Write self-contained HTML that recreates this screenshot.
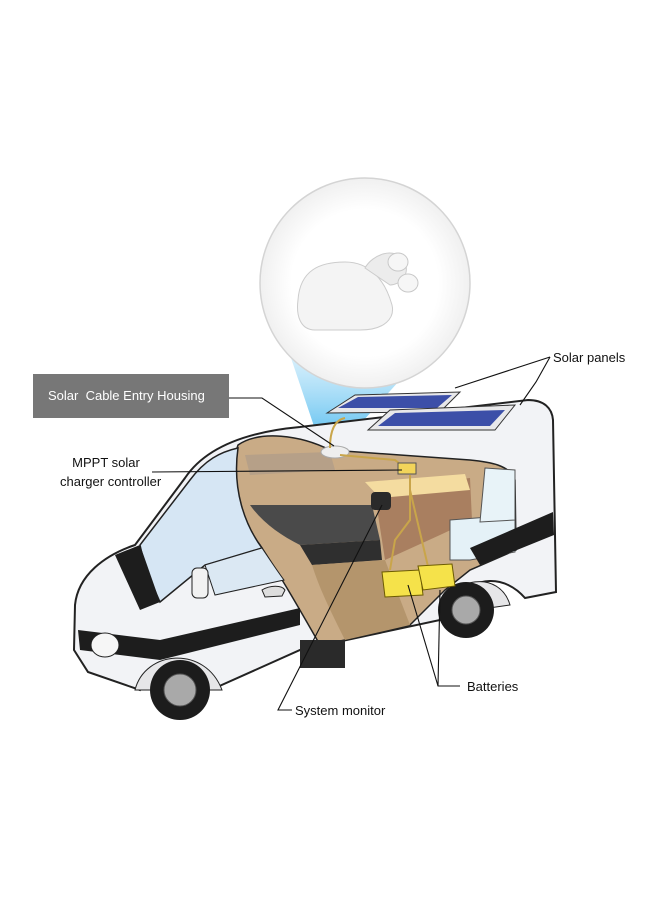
<!DOCTYPE html>
<html><head><meta charset="utf-8"><style>
html,body{margin:0;padding:0;background:#fff;}
body{width:660px;height:900px;position:relative;overflow:hidden;font-family:"Liberation Sans",sans-serif;}
.t{position:absolute;font-size:13px;color:#111;line-height:19px;}
</style></head><body>
<svg width="660" height="900" style="position:absolute;left:0;top:0">
<defs>
<linearGradient id="beam" x1="0" y1="0" x2="0" y2="1">
<stop offset="0" stop-color="#bfe6fa" stop-opacity="0.6"/>
<stop offset="1" stop-color="#3ab2ec" stop-opacity="0.95"/>
</linearGradient>
<radialGradient id="circ" cx="0.5" cy="0.5" r="0.5">
<stop offset="0.7" stop-color="#fff"/><stop offset="1" stop-color="#f0f0f0"/>
</radialGradient>
</defs>
<!-- beam -->
<polygon points="290,355 400,380 335,452 322,450" fill="url(#beam)"/>
<!-- circle -->
<circle cx="365" cy="283" r="105" fill="url(#circ)" stroke="#d4d4d4" stroke-width="1.5"/>
<!-- housing -->
<path d="M298,300 C300,270 320,262 345,262 C370,262 385,280 392,305 C395,318 385,330 360,330 L315,330 C300,330 296,315 298,300Z" fill="#f4f4f4" stroke="#ccc"/>
<path d="M365,268 C372,255 395,245 405,262 C410,275 400,285 390,285Z" fill="#ececec" stroke="#ccc"/>
<ellipse cx="398" cy="262" rx="10" ry="9" fill="#f6f6f6" stroke="#c8c8c8"/>
<ellipse cx="408" cy="283" rx="10" ry="9" fill="#f6f6f6" stroke="#c8c8c8"/>
<!-- van body -->
<path d="M75,605 C78,575 105,555 135,545 L185,478 C205,448 245,432 300,427 L528,400 C544,400 552,408 553,420 L556,592 L525,598 C505,575 475,575 455,600 L440,620 L300,650 L215,688 C200,660 160,655 140,690 L88,672 L74,650 Z" fill="#f2f3f6" stroke="#222" stroke-width="2"/>
<!-- interior cutout -->
<path d="M238,445 C260,430 300,435 330,450 L470,460 C490,462 510,465 515,480 L516,550 L470,570 L445,590 L410,625 L345,640 L320,645 C300,610 280,575 260,545 C240,520 225,480 238,445Z" fill="#c9ab86" stroke="#222" stroke-width="1.5"/>
<path d="M245,455 L330,452 L335,470 L250,475Z" fill="#b6a088"/>
<path d="M250,505 L372,505 L380,540 L300,545 C280,535 262,522 250,505Z" fill="#4a4a4a"/>
<path d="M300,545 L380,540 L382,560 L312,565Z" fill="#2f2f2f"/>
<path d="M312,565 L385,560 L410,625 L345,640 C330,610 320,590 312,565Z" fill="#b4956c"/>
<path d="M375,495 L405,485 L470,478 L472,520 L440,535 L385,560Z" fill="#a97f60"/>
<path d="M365,482 L465,474 L470,490 L380,498Z" fill="#f4dca0"/>
<path d="M450,520 L515,515 L515,552 L470,560 L450,560Z" fill="#e4f1f7" stroke="#555"/>
<path d="M485,468 L515,470 L515,520 L480,522Z" fill="#e8f3f8" stroke="#555"/>
<!-- windshield -->
<path d="M140,545 L190,480 C205,460 220,452 238,448 C232,490 245,525 262,548 L205,565 L160,602 C150,580 143,560 140,545Z" fill="#d6e6f4" stroke="#222" stroke-width="1.5"/>
<path d="M205,565 L262,548 C270,560 278,572 284,580 L215,595Z" fill="#dbe8f3" stroke="#222"/>
<!-- stripes -->
<path d="M78,630 L160,640 L300,608 L300,625 L160,660 L80,650Z" fill="#1d1d1d"/>
<path d="M470,548 L553,512 L554,535 L480,565Z" fill="#1d1d1d"/>
<path d="M115,555 L140,545 L160,602 L140,610Z" fill="#1d1d1d"/>
<!-- wheel arches & wheels -->
<path d="M135,690 C145,650 205,645 222,690Z" fill="#e6e6e8" stroke="#222"/>
<circle cx="180" cy="690" r="30" fill="#1c1c1c"/>
<circle cx="180" cy="690" r="16" fill="#a9a9a9" stroke="#555"/>
<path d="M440,615 C450,575 500,570 510,605Z" fill="#e6e6e8" stroke="#222"/>
<circle cx="466" cy="610" r="28" fill="#1c1c1c"/>
<circle cx="466" cy="610" r="14" fill="#a9a9a9" stroke="#555"/>
<rect x="300" y="640" width="45" height="28" fill="#2a2a2a"/>
<!-- mirror, headlight, handle -->
<rect x="192" y="568" width="16" height="30" rx="5" fill="#f2f2f2" stroke="#222"/>
<ellipse cx="105" cy="645" rx="14" ry="12" fill="#f6f6f6" stroke="#222"/>
<path d="M262,590 C270,585 282,585 285,590 L282,596 L265,597Z" fill="#ddd" stroke="#222"/>
<!-- solar panels -->
<path d="M327,413 L355,395 L460,392 L440,412Z" fill="#e8e8ea" stroke="#333"/>
<path d="M338,408 L358,397 L452,395 L437,408Z" fill="#3c4fa8"/>
<path d="M368,430 L390,410 L515,405 L495,430Z" fill="#e8e8ea" stroke="#333"/>
<path d="M378,426 L395,413 L505,410 L490,426Z" fill="#3c4fa8"/>
<!-- housing on roof -->
<ellipse cx="335" cy="452" rx="14" ry="6" fill="#eee" stroke="#aaa"/>
<!-- cables -->
<path d="M330,448 C330,430 335,420 345,418 M340,455 L395,460 L405,468 M410,475 L410,520 L395,540 L390,570 M410,490 L430,575" fill="none" stroke="#c9a54a" stroke-width="2"/>
<!-- controller, monitor -->
<rect x="398" y="463" width="18" height="11" fill="#f2d45a" stroke="#555"/>
<rect x="371" y="492" width="20" height="18" rx="4" fill="#2a2a2a"/>
<!-- batteries -->
<path d="M382,572 L420,570 L423,595 L385,597Z" fill="#f5e24a" stroke="#6b5a00"/>
<path d="M418,566 L452,564 L455,586 L423,590Z" fill="#f5e24a" stroke="#6b5a00"/>
<!-- leader lines -->
<g fill="none" stroke="#111" stroke-width="1.1">
<polyline points="229,398 262,398 334,446"/>
<polyline points="152,472 402,470"/>
<polyline points="550,357 455,388"/>
<polyline points="550,357 536,382 520,405"/>
<polyline points="460,686 438,686 408,585"/>
<polyline points="438,686 440,590"/>
<polyline points="292,710 278,710 382,505"/>
</g>
<rect x="33" y="374" width="196" height="44" fill="#777"/>
</svg>
<div class="t" style="left:48px;top:386px;color:#fff;font-size:13px;">Solar&nbsp; Cable Entry Housing</div>
<div class="t" style="left:553px;top:348px;">Solar panels</div>
<div class="t" style="left:58px;top:453px;text-align:center;width:96px;">MPPT solar</div>
<div class="t" style="left:60px;top:472px;">charger controller</div>
<div class="t" style="left:467px;top:677px;">Batteries</div>
<div class="t" style="left:295px;top:701px;">System monitor</div>
</body></html>
